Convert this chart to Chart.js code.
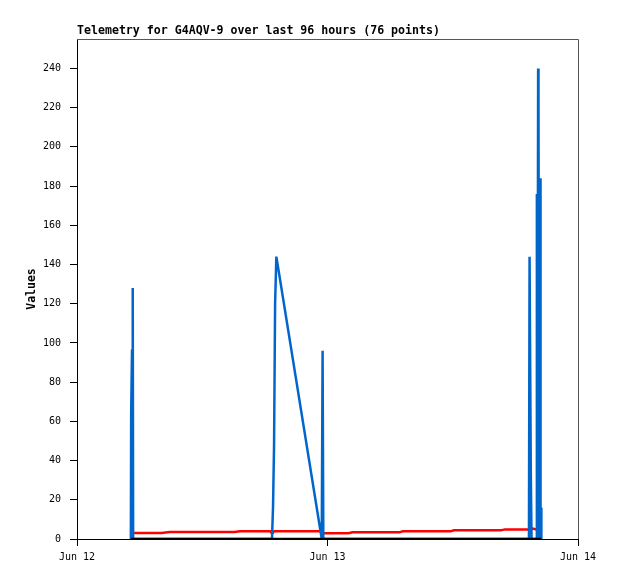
<!DOCTYPE html>
<html>
<head>
<meta charset="utf-8">
<title>Telemetry for G4AQV-9</title>
<script src="https://cdn.jsdelivr.net/npm/chart.js@4.4.1/dist/chart.umd.min.js"></script>
<style>
    html, body { margin: 0; padding: 0; background: #fff; }
    #wrap { position: relative; width: 618px; height: 579px; }
</style>
</head>
<body>
<div id="wrap"><canvas id="telemetryChart"></canvas></div>
<script>
// sample times, hours since Jun 12 00:00
const hours = [
    5.16, 5.19, 5.27, 5.34, 5.38,
    6.0, 6.7, 7.4, 8.1, 8.9, 9.6, 10.3, 11.0, 11.7, 12.4, 13.1, 13.8, 14.5, 15.1, 15.6, 16.2, 16.8, 17.4, 18.0, 18.5,
    18.68, 18.78, 18.88, 18.98, 19.10, 23.45, 23.53, 23.60,
    24.2, 24.9, 25.5, 26.0, 26.4, 27.1, 27.8, 28.5, 29.2, 29.9, 30.9,
    31.2, 32.0, 32.8, 33.6, 34.4, 35.2, 35.8, 36.1, 37.0, 37.9, 38.8, 39.7, 40.6, 41.0, 42.0, 43.0,
    43.30, 43.36, 43.48, 43.55, 43.68, 44.02, 44.06, 44.11, 44.18, 44.20, 44.23, 44.28, 44.37, 44.41, 44.46, 44.49
];

const channel1 = [
    0, 64, 96, 128, 0,
    0, 0, 0, 0, 0, 0, 0, 0, 0, 0, 0, 0, 0, 0, 0, 0, 0, 0, 0, 0,
    0, 16, 48, 120, 144, 0, 96, 0,
    0, 0, 0, 0, 0, 0, 0, 0, 0, 0, 0,
    0, 0, 0, 0, 0, 0, 0, 0, 0, 0, 0, 0, 0, 0, 0, 0,
    0, 144, 32, 0, 0, 0, 176, 0, 240, 0, 224, 0, 184, 0, 16, 0
];

const channel2 = [
    3.1, 3.1, 3.1, 3.1, 3.1,
    3.1, 3.1, 3.1, 3.1, 3.6, 3.6, 3.6, 3.6, 3.6, 3.6, 3.6, 3.6, 3.6, 3.6, 4.0, 4.0, 4.0, 4.0, 4.0, 4.0,
    2.9, 3.2, 4.0, 4.0, 4.0, 4.0, 4.0, 2.9,
    2.9, 2.9, 2.9, 2.9, 3.4, 3.4, 3.4, 3.4, 3.4, 3.4, 3.4,
    3.9, 3.9, 3.9, 3.9, 3.9, 3.9, 3.9, 4.4, 4.4, 4.4, 4.4, 4.4, 4.4, 4.9, 4.9, 4.9,
    4.9, 4.9, 4.9, 4.9, 5.3, 4.9, 4.9, 4.9, 4.9, 4.9, 4.9, 4.9, 4.9, 4.9, 4.9, 4.9
];

const channel3 = [
    0, 0, 0, 0, 0,
    0, 0, 0, 0, 0, 0, 0, 0, 0, 0, 0, 0, 0, 0, 0, 0, 0, 0, 0, 0,
    0, 0, 0, 0, 0, 0, 0, 0,
    0, 0, 0, 0, 0, 0, 0, 0, 0, 0, 0,
    0, 0, 0, 0, 0, 0, 0, 0, 0, 0, 0, 0, 0, 0, 0, 0,
    0, 0, 0, 0, 0, 0, 0, 0, 0, 0, 0, 0, 0, 0, 0, 0
];

const dayLabels = ['Jun 12', 'Jun 13', 'Jun 14'];
const chartTitle = 'Telemetry for G4AQV-9 over last 96 hours (76 points)';

function toPoints(values) {
    return values.map((v, i) => ({ x: hours[i], y: v }));
}

// title above the plot and the grey top/right frame
const framePlugin = {
    id: 'frame',
    beforeDatasetsDraw: function(chart) {
        const ctx = chart.ctx;
        const a = chart.chartArea;
        ctx.save();
        ctx.strokeStyle = '#555';
        ctx.lineWidth = 1;
        ctx.beginPath();
        ctx.moveTo(a.left, a.top + 0.5);
        ctx.lineTo(a.right + 0.5, a.top + 0.5);
        ctx.lineTo(a.right + 0.5, a.bottom);
        ctx.stroke();
        ctx.restore();
    },
    afterDraw: function(chart) {
        const ctx = chart.ctx;
        ctx.save();
        ctx.fillStyle = '#000';
        ctx.font = 'bold 11.6px "DejaVu Sans Mono", monospace';
        ctx.textBaseline = 'alphabetic';
        ctx.fillText(chartTitle, chart.chartArea.left, 34);
        ctx.restore();
    }
};

const mono = '"DejaVu Sans Mono", monospace';

new Chart(document.getElementById('telemetryChart').getContext('2d'), {
    type: 'line',
    data: {
        datasets: [
            { data: toPoints(channel3), borderColor: '#000000', borderWidth: 2.5 },
            { data: toPoints(channel1), borderColor: '#0066cc', borderWidth: 2.5 },
            { data: toPoints(channel2), borderColor: '#ff0000', borderWidth: 2.5 }
        ]
    },
    options: {
        responsive: true,
        maintainAspectRatio: false,
        animation: false,
        events: [],
        layout: { padding: { top: 39, right: 40, left: 0, bottom: 0 } },
        elements: {
            point: { radius: 0 },
            line: { tension: 0, borderJoinStyle: 'miter', borderCapStyle: 'butt' }
        },
        plugins: {
            legend: { display: false },
            tooltip: { enabled: false }
        },
        scales: {
            x: {
                type: 'linear',
                min: 0,
                max: 48,
                afterFit: function(scale) { scale.height = 40; },
                border: { display: true, color: '#000', width: 1 },
                grid: { drawOnChartArea: false, drawTicks: true, tickLength: 7, tickColor: '#000' },
                ticks: {
                    stepSize: 24,
                    padding: 5,
                    maxRotation: 0,
                    color: '#000',
                    font: { family: mono, size: 10 },
                    callback: function(value) { return dayLabels[value / 24]; }
                }
            },
            y: {
                min: 0,
                max: 255,
                afterFit: function(scale) { scale.width = 77; },
                border: { display: true, color: '#000', width: 1 },
                grid: { drawOnChartArea: false, drawTicks: true, tickLength: 7, tickColor: '#000' },
                ticks: {
                    stepSize: 20,
                    includeBounds: false,
                    padding: 9,
                    color: '#000',
                    font: { family: mono, size: 10 }
                },
                title: {
                    display: true,
                    text: 'Values',
                    color: '#000',
                    font: { family: mono, size: 11.5, weight: 'bold' },
                    padding: { top: 25, bottom: 0 }
                }
            }
        }
    },
    plugins: [framePlugin]
});
</script>
</body>
</html>
